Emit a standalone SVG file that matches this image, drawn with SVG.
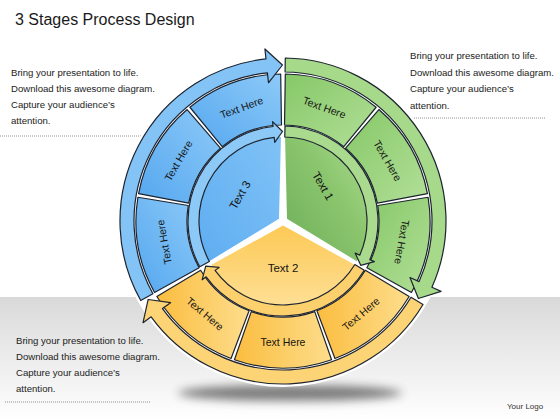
<svg xmlns="http://www.w3.org/2000/svg" width="560" height="420" viewBox="0 0 560 420">
<style>
.ol{stroke:#1d2430;stroke-width:1.2;stroke-linejoin:round}
.lbl{font-family:"Liberation Sans","DejaVu Sans",sans-serif;font-size:10.5px;fill:#151515;text-anchor:middle;dominant-baseline:central}
.big{font-size:11.5px}
.para{font-family:"Liberation Sans","DejaVu Sans",sans-serif;font-size:9.6px;fill:#222}
.dot{stroke:#777;stroke-width:0.8;stroke-dasharray:1 1;fill:none}
</style>
<defs>
<linearGradient id="floor" x1="0" y1="297" x2="0" y2="420" gradientUnits="userSpaceOnUse"><stop offset="0" stop-color="#d9d9d9"/><stop offset="1" stop-color="#ffffff"/></linearGradient>
<filter id="blur" x="-30%" y="-200%" width="160%" height="500%"><feGaussianBlur stdDeviation="5"/></filter>
<linearGradient id="bSeg" x1="0" y1="1" x2="1" y2="0"><stop offset="0" stop-color="#55a7ef"/><stop offset="1" stop-color="#8dcaf8"/></linearGradient>
<linearGradient id="bDisk" x1="0" y1="1" x2="1" y2="0"><stop offset="0" stop-color="#5eadf1"/><stop offset="1" stop-color="#80c2f6"/></linearGradient>
<linearGradient id="gSeg" x1="0" y1="0" x2="1" y2="1"><stop offset="0" stop-color="#86c867"/><stop offset="1" stop-color="#b2df98"/></linearGradient>
<linearGradient id="gDisk" x1="0" y1="1" x2="1" y2="0"><stop offset="0" stop-color="#6dac58"/><stop offset="0.6" stop-color="#8cc76f"/><stop offset="1" stop-color="#acda90"/></linearGradient>
<linearGradient id="ySeg" x1="0" y1="0" x2="1" y2="0"><stop offset="0" stop-color="#fbbd3f"/><stop offset="1" stop-color="#fddd8c"/></linearGradient>
<linearGradient id="yDisk" x1="0" y1="0" x2="0" y2="1"><stop offset="0" stop-color="#fcc955"/><stop offset="1" stop-color="#fedf94"/></linearGradient>
</defs>

<g id="background">
<rect width="560" height="420" fill="#ffffff"/>
<rect x="0" y="297" width="560" height="123" fill="url(#floor)"/>
<ellipse cx="290" cy="393" rx="112" ry="8" fill="#3a3a3a" opacity="0.65" filter="url(#blur)"/>
</g>

<g id="title"><text x="15" y="25" font-family="Liberation Sans, DejaVu Sans, sans-serif" font-size="16" fill="#1a1a1a">3 Stages Process Design</text></g>

<g id="note-top-left">
<text class="para" x="11" y="76">Bring your presentation to life.</text>
<text class="para" x="11" y="92">Download this awesome diagram.</text>
<text class="para" x="11" y="108">Capture your audience’s</text>
<text class="para" x="11" y="124">attention.</text>
<line class="dot" x1="0" y1="136" x2="150" y2="136"/>
</g>
<g id="note-top-right">
<text class="para" x="410" y="59">Bring your presentation to life.</text>
<text class="para" x="410" y="75.5">Download this awesome diagram.</text>
<text class="para" x="410" y="92">Capture your audience’s</text>
<text class="para" x="410" y="108.5">attention.</text>
<line class="dot" x1="400" y1="118" x2="545" y2="118"/>
</g>
<g id="note-bottom-left">
<text class="para" x="16" y="344">Bring your presentation to life.</text>
<text class="para" x="16" y="360">Download this awesome diagram.</text>
<text class="para" x="16" y="376">Capture your audience’s</text>
<text class="para" x="16" y="392">attention.</text>
<line class="dot" x1="5" y1="402" x2="150" y2="402"/>
</g>
<g id="logo"><text x="507" y="409" font-family="Liberation Sans, DejaVu Sans, sans-serif" font-size="8" fill="#333">Your Logo</text></g>

<circle cx="283" cy="221" r="166" fill="#ffffff"/>

<g id="stage-3-blue">
<path d="M279,218.7 L209.25,261.21 A84,84 0 0 1 280.95,137.03 Z" fill="url(#bDisk)"/>
<g id="blue-seg-1"><path class="ol" d="M154.56,292.49 A147,147 0 0 1 137.93,197.24 L188.26,205.49 A96,96 0 0 0 199.12,267.69 Z" fill="url(#bSeg)"/><text class="lbl" transform="translate(163.8,242) rotate(-100)">Text Here</text></g>
<g id="blue-seg-2"><path class="ol" d="M138.56,193.71 A147,147 0 0 1 187.14,109.55 L220.40,148.22 A96,96 0 0 0 188.67,203.18 Z" fill="url(#bSeg)"/><text class="lbl" transform="translate(178.2,160.5) rotate(-60)">Text Here</text></g>
<g id="blue-seg-3"><path class="ol" d="M189.89,107.25 A147,147 0 0 1 280.69,74.02 L281.49,125.01 A96,96 0 0 0 222.20,146.71 Z" fill="url(#bSeg)"/><text class="lbl" transform="translate(241.6,107.3) rotate(-20)">Text Here</text></g>
<text class="lbl big" transform="translate(240,195) rotate(-60)">Text 3</text>
</g>

<g id="stage-1-green">
<path d="M287,218.7 L285.05,137.03 A84,84 0 0 1 356.75,261.21 Z" fill="url(#gDisk)"/>
<g id="green-seg-1"><path class="ol" d="M285.31,74.02 A147,147 0 0 1 376.11,107.25 L343.80,146.71 A96,96 0 0 0 284.51,125.01 Z" fill="url(#gSeg)"/><text class="lbl" transform="translate(324.4,107.3) rotate(20)">Text Here</text></g>
<g id="green-seg-2"><path class="ol" d="M378.86,109.55 A147,147 0 0 1 427.44,193.71 L377.33,203.18 A96,96 0 0 0 345.60,148.22 Z" fill="url(#gSeg)"/><text class="lbl" transform="translate(387.8,160.5) rotate(60)">Text Here</text></g>
<g id="green-seg-3"><path class="ol" d="M428.07,197.24 A147,147 0 0 1 411.44,292.49 L366.88,267.69 A96,96 0 0 0 377.74,205.49 Z" fill="url(#gSeg)"/><text class="lbl" transform="translate(402.2,242) rotate(100)">Text Here</text></g>
<text class="lbl big" transform="translate(323,186) rotate(60)">Text 1</text>
</g>

<g id="stage-2-yellow">
<path d="M283,225.6 L354.7,264.76 A84,84 0 0 1 211.3,264.76 Z" fill="url(#yDisk)"/>
<g id="yellow-seg-1"><path class="ol" d="M409.14,296.49 A147,147 0 0 1 334.96,358.51 L316.93,310.80 A96,96 0 0 0 365.37,270.30 Z" fill="url(#ySeg)"/><text class="lbl" transform="translate(360.8,313.7) rotate(-40)">Text Here</text></g>
<g id="yellow-seg-2"><path class="ol" d="M331.58,359.74 A147,147 0 0 1 234.42,359.74 L251.27,311.60 A96,96 0 0 0 314.73,311.60 Z" fill="url(#ySeg)"/><text class="lbl" transform="translate(283,342)">Text Here</text></g>
<g id="yellow-seg-3"><path class="ol" d="M231.04,358.51 A147,147 0 0 1 156.86,296.49 L200.63,270.30 A96,96 0 0 0 249.07,310.80 Z" fill="url(#ySeg)"/><text class="lbl" transform="translate(205.2,313.7) rotate(40)">Text Here</text></g>
<text class="lbl big" x="283" y="268">Text 2</text>
</g>

<g id="connectors">
<path class="ol" fill="#8dc9f7" d="M209.39,261.47 A84,84 0 0 1 274.22,137.46 L274.74,142.43 L282.53,131.5 L272.55,121.55 L273.07,126.52 A95,95 0 0 0 199.75,266.77 Z"/>
<path class="ol" fill="#84c3f5" d="M152.93,293.69 A149,149 0 0 1 267.43,72.82 L268.47,82.76 L282.46,65 L264.92,48.95 L265.96,58.89 A163,163 0 0 0 140.71,300.52 Z"/>
<path class="ol" fill="#a9da8d" d="M284.76,137.02 A84,84 0 0 1 359.74,255.17 L355.17,253.13 L360.74,265.34 L374.36,261.67 L369.79,259.64 A95,95 0 0 0 284.99,126.02 Z"/>
<path class="ol" fill="#a7d98b" d="M285.08,72.01 A149,149 0 0 1 419.12,281.60 L409.98,277.54 L418.37,298.53 L441.04,291.37 L431.91,287.30 A163,163 0 0 0 285.28,58.02 Z"/>
<path class="ol" fill="#fcd06c" d="M354.85,264.51 A84,84 0 0 1 215.04,270.37 L219.09,267.44 L205.73,266.16 L202.10,279.78 L206.14,276.84 A95,95 0 0 0 364.26,270.21 Z"/>
<path class="ol" fill="#fcd375" d="M410.99,297.30 A149,149 0 0 1 162.46,308.58 L170.55,302.70 L148.17,299.47 L143.04,322.69 L151.13,316.81 A163,163 0 0 0 423.01,304.46 Z"/>
</g>
</svg>
